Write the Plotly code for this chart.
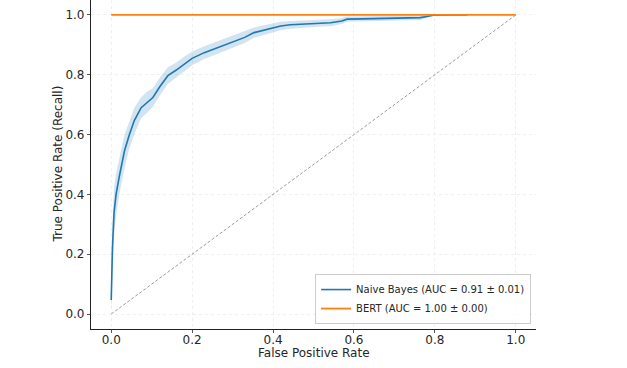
import plotly.graph_objects as go

fpr = [0.0, 0.003, 0.007, 0.012, 0.02, 0.033, 0.045, 0.057, 0.074, 0.09, 0.103, 0.12, 0.14,
       0.16, 0.18, 0.2, 0.23, 0.26, 0.296, 0.33, 0.353, 0.38, 0.419, 0.443, 0.48, 0.52,
       0.542, 0.57, 0.583, 0.62, 0.7, 0.764, 0.78, 0.796, 0.83, 0.88]
nb_tpr = [0.047, 0.22, 0.34, 0.40, 0.46, 0.547, 0.60, 0.647, 0.69, 0.71, 0.724, 0.76, 0.797,
          0.815, 0.836, 0.855, 0.874, 0.89, 0.908, 0.925, 0.941, 0.95, 0.963, 0.967, 0.97,
          0.973, 0.974, 0.98, 0.986, 0.987, 0.988, 0.991, 0.995, 0.999, 1.0, 1.0]
nb_upper = [0.09, 0.30, 0.42, 0.47, 0.52, 0.60, 0.645, 0.69, 0.725, 0.745, 0.755, 0.79, 0.825,
            0.84, 0.86, 0.878, 0.895, 0.91, 0.928, 0.944, 0.958, 0.966, 0.977, 0.98, 0.982,
            0.985, 0.986, 0.99, 0.995, 0.996, 0.997, 0.999, 1.0, 1.0, 1.0, 1.0]
nb_lower = [0.01, 0.14, 0.26, 0.33, 0.40, 0.49, 0.555, 0.60, 0.655, 0.675, 0.693, 0.73, 0.77,
            0.79, 0.812, 0.832, 0.853, 0.87, 0.888, 0.906, 0.924, 0.934, 0.949, 0.954, 0.958,
            0.961, 0.962, 0.97, 0.977, 0.978, 0.979, 0.983, 0.99, 0.998, 1.0, 1.0]

bert_fpr = [0.0, 1.0]
bert_tpr = [1.0, 1.0]
diag = [0.0, 1.0]

nb_label = "Naive Bayes (AUC = 0.91 ± 0.01)"
bert_label = "BERT (AUC = 1.00 ± 0.00)"
x_title = "False Positive Rate"
y_title = "True Positive Rate (Recall)"
x_ticks = [0.0, 0.2, 0.4, 0.6, 0.8, 1.0]
y_ticks = [0.0, 0.2, 0.4, 0.6, 0.8, 1.0]

fig = go.Figure()
fig.add_trace(go.Scatter(x=fpr, y=nb_upper, mode="lines", line=dict(width=0),
                         showlegend=False, hoverinfo="skip"))
fig.add_trace(go.Scatter(x=fpr, y=nb_lower, mode="lines", line=dict(width=0),
                         fill="tonexty", fillcolor="rgba(31,119,180,0.2)",
                         showlegend=False, hoverinfo="skip"))
fig.add_trace(go.Scatter(x=diag, y=diag, mode="lines", showlegend=False,
                         line=dict(color="gray", width=0.8, dash="3px,2px")))
fig.add_trace(go.Scatter(x=fpr, y=nb_tpr, mode="lines", name=nb_label,
                         line=dict(color="#1f77b4", width=1.6)))
fig.add_trace(go.Scatter(x=bert_fpr, y=bert_tpr, mode="lines", name=bert_label,
                         line=dict(color="#ff7f0e", width=1.8)))

axis_common = dict(showline=True, linecolor="#222222", linewidth=1.2, ticks="outside",
                   ticklen=3, tickcolor="#555555", showgrid=True, gridcolor="#efefef",
                   griddash="3px,3px", gridwidth=0.8, zeroline=False, mirror=False,
                   automargin=False, tickfont=dict(size=12, color="#262626"))
fig.update_xaxes(range=[-0.05, 1.05], tickvals=x_ticks, tickformat=".1f",
                 ticklabelstandoff=-4, **axis_common)
fig.update_yaxes(range=[-0.05, 1.05], tickvals=y_ticks, tickformat=".1f",
                 ticklabelstandoff=0, **axis_common)

fig.add_annotation(text=x_title, xref="paper", yref="paper", x=0.5, y=0,
                   xanchor="center", yanchor="middle", yshift=-24, showarrow=False,
                   font=dict(size=12, color="#262626"))
fig.add_annotation(text=y_title, xref="paper", yref="paper", x=0, y=0.5,
                   xanchor="center", yanchor="middle", xshift=-34, textangle=-90,
                   showarrow=False, font=dict(size=12, color="#262626"))

fig.update_layout(
    width=627, height=368,
    margin=dict(l=91, r=91, t=0, b=39),
    plot_bgcolor="white", paper_bgcolor="white",
    font=dict(family="DejaVu Sans", size=11, color="#262626"),
    legend=dict(x=0.989, y=0.015, xanchor="right", yanchor="bottom", traceorder="normal",
                bgcolor="rgba(255,255,255,0.8)", bordercolor="#cccccc", borderwidth=1,
                font=dict(size=10), itemwidth=30, tracegroupgap=0),
)

fig.write_html("out.html", config={"displayModeBar": False},
               post_script="document.body.style.margin='0';document.body.style.overflow='hidden';")
